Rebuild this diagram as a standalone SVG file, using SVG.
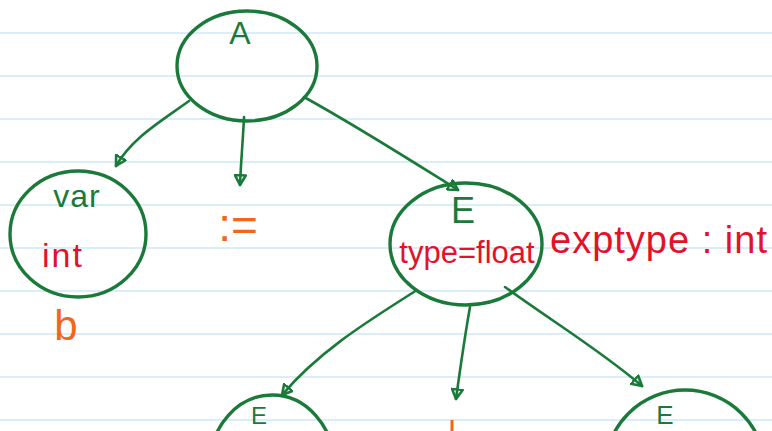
<svg xmlns="http://www.w3.org/2000/svg" width="772" height="431" viewBox="0 0 772 431">
  <defs>
    <marker id="arrow" viewBox="0 0 12 12" refX="10" refY="6" markerWidth="13" markerHeight="13" markerUnits="userSpaceOnUse" orient="auto">
      <path d="M1,1 L10,6 L1,11 Z" fill="none" stroke="#1b7a3a" stroke-width="2.4" stroke-linejoin="round"/>
    </marker>
    <style>
      .rule { stroke: #cde8f6; stroke-width: 1.5; }
      .node { fill: none; stroke: #1b7a3a; stroke-width: 3.4; }
      .edge { fill: none; stroke: #1b7a3a; stroke-width: 2.6; stroke-linecap: round; marker-end: url(#arrow); }
      .g { fill: #1b7a3a; font-family: "Liberation Sans", Arial, sans-serif; }
      .r { fill: #e3122b; font-family: "Liberation Sans", Arial, sans-serif; }
      .o { fill: #f2661a; font-family: "Liberation Sans", Arial, sans-serif; }
    </style>
  </defs>
  <rect width="772" height="431" fill="#ffffff"/>
  <!-- notebook ruling -->
  <g id="ruling">
    <line class="rule" x1="0" y1="33" x2="772" y2="33"/>
    <line class="rule" x1="0" y1="76" x2="772" y2="76"/>
    <line class="rule" x1="0" y1="119" x2="772" y2="119"/>
    <line class="rule" x1="0" y1="162" x2="772" y2="162"/>
    <line class="rule" x1="0" y1="205" x2="772" y2="205"/>
    <line class="rule" x1="0" y1="248" x2="772" y2="248"/>
    <line class="rule" x1="0" y1="291" x2="772" y2="291"/>
    <line class="rule" x1="0" y1="334" x2="772" y2="334"/>
    <line class="rule" x1="0" y1="377" x2="772" y2="377"/>
    <line class="rule" x1="0" y1="420" x2="772" y2="420"/>
  </g>
  <!-- connectors -->
  <g id="connectors">
    <path class="edge" d="M189,101 C160,122 132,138 116,166"/>
    <path class="edge" d="M244,117 C243,140 241,160 240,185"/>
    <path class="edge" d="M304,97 C360,128 410,160 458,190"/>
    <path class="edge" d="M417,290 C370,320 320,350 282,395"/>
    <path class="edge" d="M470,307 C465,335 460,370 456,399"/>
    <path class="edge" d="M505,287 C550,320 600,350 642,386"/>
  </g>
  <!-- root node -->
  <g id="node-A">
    <ellipse class="node" cx="247" cy="66" rx="70" ry="55"/>
    <text class="g" x="240" y="44" font-size="32" text-anchor="middle">A</text>
  </g>
  <!-- variable node -->
  <g id="node-var">
    <ellipse class="node" cx="78" cy="234" rx="68" ry="63"/>
    <text class="g" x="77" y="207" font-size="32" letter-spacing="1" text-anchor="middle">var</text>
    <text class="r" x="63" y="267" font-size="34" letter-spacing="2" text-anchor="middle">int</text>
    <text class="o" x="66" y="340" font-size="42" text-anchor="middle">b</text>
  </g>
  <!-- assignment operator -->
  <g id="node-assign">
    <text class="o" x="238" y="241" font-size="46" text-anchor="middle">:=</text>
  </g>
  <!-- expression node -->
  <g id="node-E">
    <ellipse class="node" cx="466" cy="244" rx="76" ry="61"/>
    <text class="g" x="463" y="223" font-size="36" text-anchor="middle">E</text>
    <text class="r" x="467" y="263" font-size="31" text-anchor="middle">type=float</text>
    <text class="r" x="659" y="253" font-size="38" letter-spacing="1" text-anchor="middle">exptype : int</text>
  </g>
  <!-- child nodes -->
  <g id="node-E-left">
    <ellipse class="node" cx="272" cy="465" rx="62" ry="70"/>
    <text class="g" x="259" y="424" font-size="24" text-anchor="middle">E</text>
  </g>
  <g id="node-op">
    <line x1="452" y1="420" x2="452" y2="431" stroke="#f2661a" stroke-width="3"/>
  </g>
  <g id="node-E-right">
    <ellipse class="node" cx="685" cy="470" rx="80" ry="80"/>
    <text class="g" x="665" y="424" font-size="26" text-anchor="middle">E</text>
  </g>
</svg>
